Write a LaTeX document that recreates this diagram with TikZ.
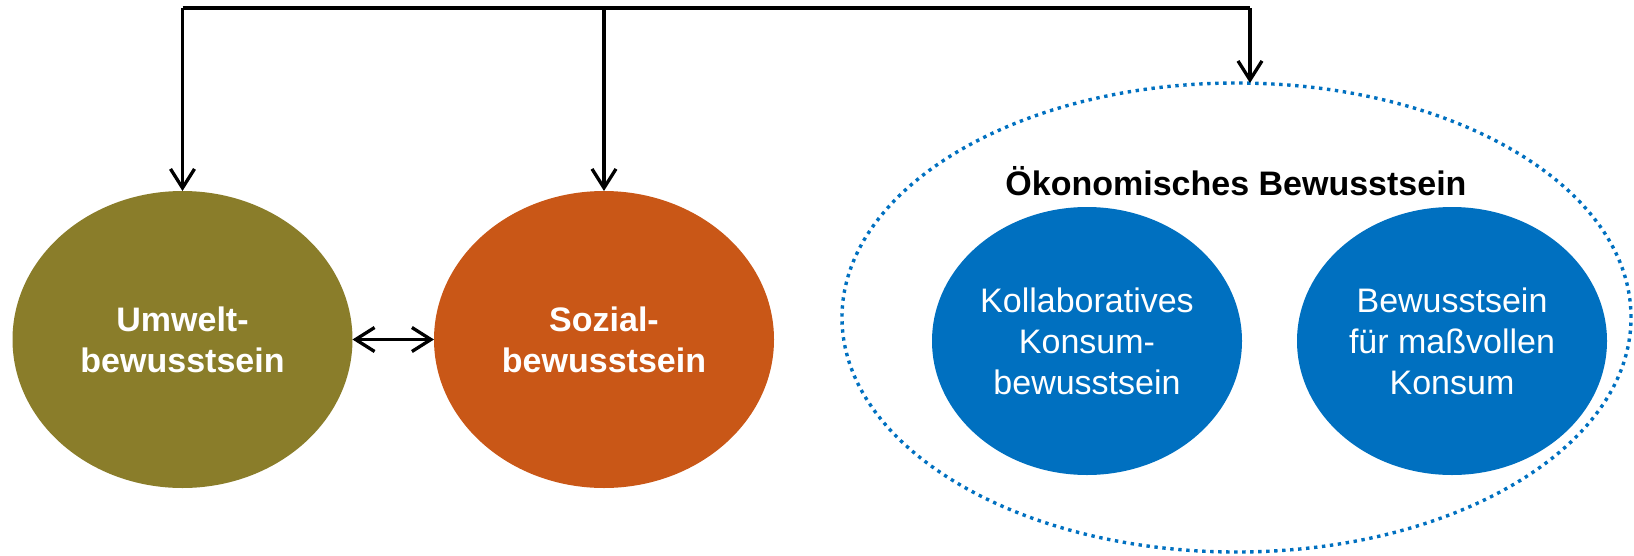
\documentclass[tikz,border=0pt]{standalone}
\usepackage{fontspec}
\setmainfont{Liberation Sans}
\usetikzlibrary{shapes.geometric,arrows.meta}
\definecolor{olivebg}{RGB}{138,125,42}
\definecolor{rustbg}{RGB}{201,87,23}
\definecolor{oblue}{RGB}{0,112,192}
\begin{document}
\begin{tikzpicture}[x=1pt,y=-1pt,
  blob/.style={ellipse, inner sep=0pt, outer sep=0pt, draw=none, text=white, align=center,
               font=\fontsize{34}{41}\selectfont},
  boldblob/.style={blob, font=\bfseries\fontsize{34}{41}\selectfont},
  tipv/.tip={Straight Barb[length=19pt,width=24pt]},
  arr/.style={line width=3.3pt, -tipv},
  darr/.style={line width=3.3pt, tipv-tipv},
  conn/.style={line width=3.3pt, line cap=square}]
\useasboundingbox (0,0) rectangle (1634,555);

% outer dotted group
\node[ellipse, inner sep=0pt, outer sep=0pt, draw=oblue, line width=3.4pt,
      dash pattern=on 3.4pt off 4.6pt, minimum width=789pt, minimum height=469pt] (oek) at (1236.5,317.5) {};

% main ellipses
\node[boldblob, fill=olivebg, minimum width=340pt, minimum height=297pt] (umwelt) at (182.5,339.5) {Umwelt-\\bewusstsein};
\node[boldblob, fill=rustbg, minimum width=340pt, minimum height=297pt] (sozial) at (604,339.5) {Sozial-\\bewusstsein};

% inner blue ellipses
\node[blob, fill=oblue, minimum width=310pt, minimum height=268pt] (koll) at (1087,341) {Kollaboratives\\Konsum-\\bewusstsein};
\node[blob, fill=oblue, minimum width=310pt, minimum height=268pt] (mass) at (1452,341) {Bewusstsein\\für maßvollen\\Konsum};

% title
\node[anchor=base, font=\bfseries\fontsize{34}{41}\selectfont] (title) at (1236,195) {Ökonomisches Bewusstsein};

% connectors
\coordinate (tl) at (182.5,8);
\coordinate (tr) at (1250,8);
\draw[conn] (tl) -- (tr);
\draw[arr] (tl) -- (umwelt.north);
\draw[arr] (sozial.north |- tl) -- (sozial.north);
\draw[arr] (tr) -- (tr |- oek.north);
\draw[darr] (umwelt.east) -- (sozial.west);
\end{tikzpicture}
\end{document}
